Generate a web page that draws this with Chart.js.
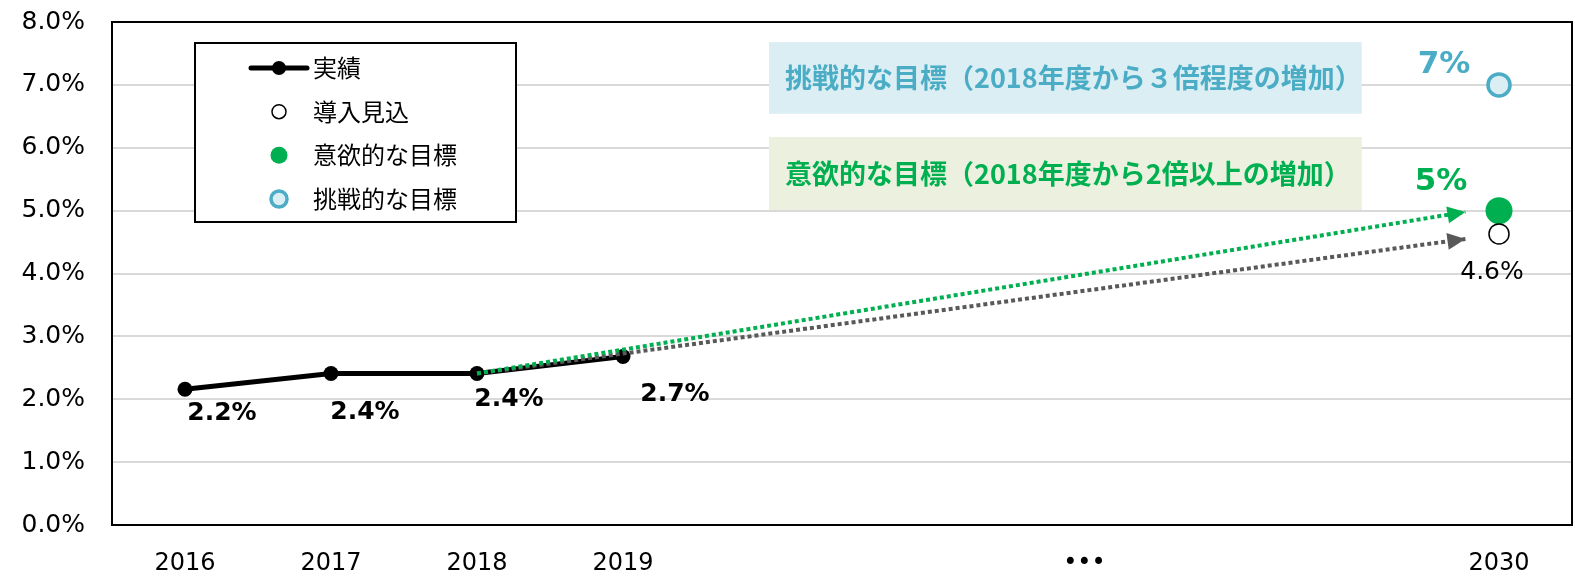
<!DOCTYPE html>
<html lang="ja">
<head>
<meta charset="utf-8">
<title>導入見込と目標</title>
<script src="https://cdn.jsdelivr.net/npm/chart.js@4.4.1/dist/chart.umd.min.js"></script>
<style>
  html, body { margin: 0; padding: 0; background: #fff; }
</style>
</head>
<body>
<canvas id="chart" width="1575" height="577"></canvas>
<script>
// x axis: year slots (0 = 2016 ... 9 = 2030), the dots sit in the gap
const tickPositions = [0, 1, 2, 3, 6.16, 9];
const tickLabels = ['2016', '2017', '2018', '2019', '•••', '2030'];

// 実績
const actualX = [0, 1, 2, 3];
const actualValues = [2.16, 2.41, 2.41, 2.68];

// 2030 values
const targetX = 9;
const outlookValue = 4.63;      // 導入見込
const ambitiousValue = 5.0;     // 意欲的な目標
const challengingValue = 7.0;   // 挑戦的な目標

// dotted trend arrows (from 2018 towards 2030)
const trendStart = [2, 2.41];
const ambitiousTrendEnd = [8.77, 4.98];
const outlookTrendEnd = [8.77, 4.55];

// goal text boxes, in axis units
const goalTexts = ['挑戦的な目標（2018年度から３倍程度の増加）', '意欲的な目標（2018年度から2倍以上の増加）'];
const goalBoxX = [4.0, 8.06];
const goalBoxY = [[7.68, 6.54], [6.17, 5.01]];

const NUM_FONT = "'DejaVu Sans', 'Noto Sans CJK JP', sans-serif";
const JP_FONT = "'Noto Sans CJK JP', 'DejaVu Sans', sans-serif";
const GREEN = '#00B050';
const BLUE = '#4BACC6';
const LIGHT_BLUE = '#DAEEF3';
const GRAY = '#595959';

function pts(xs, ys) {
    return xs.map((x, i) => ({ x: x, y: ys[i] }));
}

const goalBoxes = {
    id: 'goalBoxes',
    beforeDatasetsDraw(chart, args, opts) {
        const ctx = chart.ctx;
        const xs = chart.scales.x, ys = chart.scales.y;
        ctx.save();
        goalTexts.forEach((t, i) => {
            const left = xs.getPixelForValue(goalBoxX[0]);
            const right = xs.getPixelForValue(goalBoxX[1]);
            const top = ys.getPixelForValue(goalBoxY[i][0]);
            const bottom = ys.getPixelForValue(goalBoxY[i][1]);
            ctx.fillStyle = opts.fills[i];
            ctx.fillRect(left, top, right - left, bottom - top);
            ctx.font = opts.font;
            ctx.fillStyle = opts.colors[i];
            ctx.textAlign = 'left';
            ctx.textBaseline = 'middle';
            ctx.fillText(t, left + opts.padX, (top + bottom) / 2);
        });
        ctx.restore();
    }
};

const arrowHeads = {
    id: 'arrowHeads',
    afterDatasetsDraw(chart) {
        const ctx = chart.ctx;
        chart.data.datasets.forEach((ds, i) => {
            if (!ds.arrowHead) return;
            const p = chart.getDatasetMeta(i).data;
            const a = p[p.length - 2], b = p[p.length - 1];
            const ang = Math.atan2(b.y - a.y, b.x - a.x);
            ctx.save();
            ctx.translate(b.x, b.y);
            ctx.rotate(ang);
            ctx.beginPath();
            ctx.moveTo(0, 0);
            ctx.lineTo(-18, -8.5);
            ctx.lineTo(-18, 8.5);
            ctx.closePath();
            ctx.fillStyle = ds.borderColor;
            ctx.fill();
            ctx.restore();
        });
    }
};

const valueLabels = {
    id: 'valueLabels',
    afterDatasetsDraw(chart) {
        const ctx = chart.ctx;
        chart.data.datasets.forEach((ds, i) => {
            const L = ds.valueLabel;
            if (!L) return;
            const meta = chart.getDatasetMeta(i);
            ctx.save();
            ctx.font = L.font;
            ctx.fillStyle = L.color;
            ctx.textAlign = 'center';
            ctx.textBaseline = 'middle';
            meta.data.forEach((pt, j) => {
                const off = L.offsets[j];
                ctx.fillText(L.format(ds.data[j].y), pt.x + off[0], pt.y + off[1]);
            });
            ctx.restore();
        });
    }
};

const boxLegend = {
    id: 'boxLegend',
    afterDatasetsDraw(chart, args, opts) {
        const ctx = chart.ctx;
        ctx.save();
        ctx.fillStyle = '#fff';
        ctx.fillRect(opts.x, opts.y, opts.w, opts.h);
        ctx.lineWidth = 2;
        ctx.strokeStyle = '#000';
        ctx.strokeRect(opts.x, opts.y, opts.w, opts.h);
        const items = chart.data.datasets.filter(d => d.legendRow !== undefined)
            .sort((a, b) => a.legendRow - b.legendRow);
        items.forEach((ds, i) => {
            const y = opts.rowY[i];
            const mx = opts.markerX;
            if (ds.showLine !== false) {
                ctx.beginPath();
                ctx.moveTo(mx - 28, y);
                ctx.lineTo(mx + 28, y);
                ctx.lineWidth = ds.borderWidth;
                ctx.lineCap = 'round';
                ctx.strokeStyle = ds.borderColor;
                ctx.stroke();
            }
            ctx.beginPath();
            ctx.arc(mx, y, ds.legendRadius, 0, Math.PI * 2);
            ctx.fillStyle = ds.pointBackgroundColor;
            ctx.fill();
            if (ds.pointBorderWidth) {
                ctx.lineWidth = ds.pointBorderWidth;
                ctx.strokeStyle = ds.pointBorderColor;
                ctx.stroke();
            }
            ctx.font = opts.font;
            ctx.fillStyle = '#000';
            ctx.textAlign = 'left';
            ctx.textBaseline = 'middle';
            ctx.fillText(ds.label, opts.textX, y);
        });
        ctx.restore();
    }
};

const frame = {
    id: 'frame',
    afterDraw(chart) {
        const { ctx, chartArea } = chart;
        ctx.save();
        ctx.lineWidth = 2;
        ctx.strokeStyle = '#000';
        ctx.strokeRect(chartArea.left, chartArea.top, chartArea.right - chartArea.left, chartArea.bottom - chartArea.top);
        ctx.restore();
    }
};

const ctx = document.getElementById('chart').getContext('2d');
new Chart(ctx, {
    type: 'line',
    data: {
        datasets: [
            {
                label: '意欲的な目標への推移',
                data: pts([trendStart[0], ambitiousTrendEnd[0]], [trendStart[1], ambitiousTrendEnd[1]]),
                borderColor: GREEN,
                borderWidth: 4,
                borderDash: [4, 3],
                pointRadius: 0,
                arrowHead: true,
                order: 1
            },
            {
                label: '導入見込への推移',
                data: pts([trendStart[0], outlookTrendEnd[0]], [trendStart[1], outlookTrendEnd[1]]),
                borderColor: GRAY,
                borderWidth: 4,
                borderDash: [4, 3],
                pointRadius: 0,
                arrowHead: true,
                order: 2
            },
            {
                label: '実績',
                data: pts(actualX, actualValues),
                borderColor: '#000',
                borderWidth: 5,
                pointRadius: 7.5,
                pointBackgroundColor: '#000',
                pointBorderWidth: 0,
                legendRow: 0,
                legendRadius: 7,
                valueLabel: {
                    font: 'bold 25px ' + NUM_FONT,
                    color: '#000',
                    offsets: [[37, 24], [34, 39], [32, 26], [52, 38]],
                    format: v => v.toFixed(1) + '%'
                },
                order: 3
            },
            {
                label: '導入見込',
                data: pts([targetX], [outlookValue]),
                showLine: false,
                pointRadius: 10,
                pointBackgroundColor: '#fff',
                pointBorderColor: '#000',
                pointBorderWidth: 1.5,
                legendRow: 1,
                legendRadius: 7,
                valueLabel: {
                    font: '25px ' + NUM_FONT,
                    color: '#000',
                    offsets: [[-7, 39]],
                    format: v => v.toFixed(1) + '%'
                },
                order: 0
            },
            {
                label: '意欲的な目標',
                data: pts([targetX], [ambitiousValue]),
                showLine: false,
                pointRadius: 13.5,
                pointBackgroundColor: GREEN,
                pointBorderWidth: 0,
                legendRow: 2,
                legendRadius: 8.5,
                valueLabel: {
                    font: 'bold 31px ' + NUM_FONT,
                    color: GREEN,
                    offsets: [[-58, -29]],
                    format: v => v.toFixed(0) + '%'
                },
                order: 0
            },
            {
                label: '挑戦的な目標',
                data: pts([targetX], [challengingValue]),
                showLine: false,
                pointRadius: 11,
                pointBackgroundColor: LIGHT_BLUE,
                pointBorderColor: BLUE,
                pointBorderWidth: 3.5,
                legendRow: 3,
                legendRadius: 8,
                valueLabel: {
                    font: 'bold 31px ' + NUM_FONT,
                    color: BLUE,
                    offsets: [[-55, -20]],
                    format: v => v.toFixed(0) + '%'
                },
                order: 0
            }
        ]
    },
    options: {
        responsive: false,
        animation: false,
        events: [],
        layout: { autoPadding: false, padding: { top: 22, right: 3, left: 0, bottom: 0 } },
        elements: { line: { tension: 0 } },
        scales: {
            x: {
                type: 'linear',
                min: -0.5,
                max: 9.5,
                afterBuildTicks: scale => {
                    scale.ticks = tickPositions.map(v => ({ value: v }));
                },
                afterFit: scale => {
                    scale.height = 52;
                    scale.paddingLeft = 0;
                    scale.paddingRight = 0;
                },
                grid: { display: false, drawTicks: false },
                border: { display: false },
                ticks: {
                    autoSkip: false,
                    maxRotation: 0,
                    padding: 24,
                    color: '#000',
                    font: { family: NUM_FONT, size: 24 },
                    callback: (value, index) => tickLabels[index]
                }
            },
            y: {
                min: 0,
                max: 8,
                afterFit: scale => {
                    scale.width = 112;
                    scale.paddingTop = 0;
                    scale.paddingBottom = 0;
                },
                grid: { color: '#D9D9D9', lineWidth: 2, drawTicks: false },
                border: { display: false },
                ticks: {
                    stepSize: 1,
                    padding: 27,
                    color: '#000',
                    font: { family: NUM_FONT, size: 25 },
                    callback: v => v.toFixed(1) + '%'
                }
            }
        },
        plugins: {
            legend: { display: false },
            tooltip: { enabled: false },
            goalBoxes: {
                fills: [LIGHT_BLUE, '#EBF1DE'],
                colors: [BLUE, GREEN],
                font: 'bold 27px ' + JP_FONT,
                padX: 16
            },
            boxLegend: {
                x: 195, y: 43, w: 321, h: 179,
                rowY: [68, 111.7, 155.3, 199],
                markerX: 279,
                textX: 313,
                font: '24px ' + JP_FONT
            }
        }
    },
    plugins: [goalBoxes, arrowHeads, valueLabels, boxLegend, frame]
});
</script>
</body>
</html>
